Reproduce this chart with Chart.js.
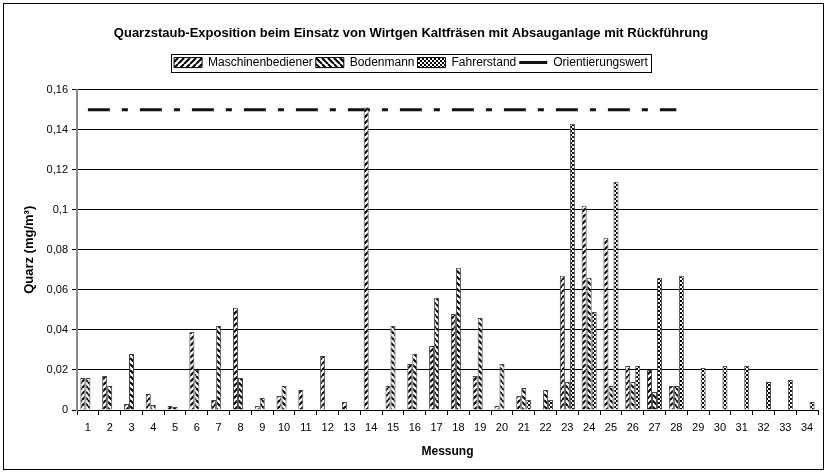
<!DOCTYPE html>
<html>
<head>
<meta charset="utf-8">
<script src="https://cdn.jsdelivr.net/npm/chart.js@4.4.0/dist/chart.umd.min.js"></script>
<style>
  body { margin: 0; background: #fff; }
  #frame { position: absolute; left: 3px; top: 3px; width: 819px; height: 465px; border: 1px solid #000; }
</style>
</head>
<body>
<div id="frame"><canvas id="chart"></canvas></div>
<script>
// values (mg/m³), null = no bar
const messungen = ["1","2","3","4","5","6","7","8","9","10","11","12","13","14","15","16","17",
  "18","19","20","21","22","23","24","25","26","27","28","29","30","31","32","33","34"];

const maschinenbediener = [0.016, 0.017, 0.003, 0.008, 0.002, 0.039, 0.005, 0.051, 0.002, 0.007,
  0.010, 0.027, 0.004, 0.151, 0.012, 0.023, 0.032, 0.048, 0.017, 0.002,
  0.007, null, 0.067, 0.102, 0.086, 0.022, 0.020, 0.012, null, null, null, null, null, null];

const bodenmann = [0.016, 0.012, 0.028, 0.0025, 0.0015, 0.020, 0.042, 0.016, 0.006, 0.012,
  null, null, null, null, 0.042, 0.028, 0.056, 0.071, 0.046, 0.023,
  0.011, 0.010, 0.014, 0.066, 0.012, 0.014, 0.009, 0.012, null, null, null, null, null, null];

const fahrerstand = [null, null, null, null, null, null, null, null, null, null,
  null, null, null, null, null, null, null, null, null, null,
  0.005, 0.005, 0.143, 0.049, 0.114, 0.022, 0.066, 0.067, 0.021, 0.022, 0.022, 0.014, 0.015, 0.004];

const orientierungswert = [0.15, 0.15, 0.15, 0.15, 0.15, 0.15, 0.15, 0.15, 0.15, 0.15,
  0.15, 0.15, 0.15, 0.15, 0.15, 0.15, 0.15, 0.15, 0.15, 0.15,
  0.15, 0.15, 0.15, 0.15, 0.15, 0.15, 0.15, 0.15, null, null, null, null, null, null];

// black & white fill patterns like the old excel chart
function makePattern(kind) {
  const c = document.createElement("canvas");
  const ctx = c.getContext("2d");
  const n = kind === "dots" ? 4 : 6;
  c.width = n; c.height = n;
  ctx.fillStyle = "#fff";
  ctx.fillRect(0, 0, n, n);
  ctx.fillStyle = "#000";
  ctx.strokeStyle = "#000";
  if (kind === "dots") {
    ctx.fillRect(0, 0, 2, 2);
    ctx.fillRect(2, 2, 2, 2);
  } else {
    ctx.lineWidth = 2;
    ctx.beginPath();
    for (let o = -n; o <= n; o += n) {
      if (kind === "up") {
        ctx.moveTo(o, n); ctx.lineTo(o + n, 0);
      } else {
        ctx.moveTo(o, 0); ctx.lineTo(o + n, n);
      }
    }
    ctx.stroke();
  }
  return ctx.createPattern(c, "repeat");
}

const legendFrame = {
  id: "legendFrame",
  start(chart) {
    // extra space between legend and plot
    const fit = chart.legend.fit;
    chart.legend.fit = function () {
      fit.call(this);
      this.height += 11;
    };
  },
  afterDraw(chart) {
    const boxes = chart.legend.legendHitBoxes;
    if (!boxes || !boxes.length) return;
    const left = Math.min(...boxes.map(b => b.left)) - 3;
    const right = Math.max(...boxes.map(b => b.left + b.width)) + 3;
    const top = Math.min(...boxes.map(b => b.top)) - 3;
    const bottom = Math.max(...boxes.map(b => b.top + b.height)) + 3;
    const ctx = chart.ctx;
    ctx.save();
    ctx.strokeStyle = "#000";
    ctx.lineWidth = 1;
    ctx.strokeRect(Math.round(left) + 0.5, Math.round(top) + 0.5, Math.round(right - left), Math.round(bottom - top));
    ctx.restore();
  }
};

Chart.defaults.font.family = '"Liberation Sans", Arial, sans-serif';
Chart.defaults.font.size = 11;
Chart.defaults.color = "#000";

const canvas = document.getElementById("chart");

new Chart(canvas, {
  type: "bar",
  data: {
    labels: messungen,
    datasets: [
      { label: "Maschinenbediener", data: maschinenbediener, backgroundColor: makePattern("up"), borderColor: "#444", borderWidth: 1 },
      { label: "Bodenmann", data: bodenmann, backgroundColor: makePattern("down"), borderColor: "#444", borderWidth: 1 },
      { label: "Fahrerstand", data: fahrerstand, backgroundColor: makePattern("dots"), borderColor: "#444", borderWidth: 1 },
      {
        type: "line", label: "Orientierungswert", data: orientierungswert,
        borderColor: "#111", borderWidth: 3, borderDash: [22, 12, 6, 12],
        pointRadius: 0, fill: false, spanGaps: false
      }
    ]
  },
  options: {
    responsive: true,
    maintainAspectRatio: false,
    animation: false,
    layout: { padding: { left: 0, right: 5, top: 0, bottom: 0 } },
    datasets: { bar: { barPercentage: 1, categoryPercentage: 0.69 } },
    plugins: {
      tooltip: { enabled: false },
      title: {
        display: true,
        text: "Quarzstaub-Exposition beim Einsatz von Wirtgen Kaltfräsen mit Absauganlage mit Rückführung",
        font: { size: 13, weight: "bold" },
        color: "#000",
        padding: { top: 22, bottom: 12 }
      },
      legend: {
        labels: {
          usePointStyle: true,
          pointStyleWidth: 28,
          boxHeight: 10,
          padding: 3,
          font: { size: 12 },
          generateLabels(chart) {
            const items = Chart.defaults.plugins.legend.labels.generateLabels(chart);
            items.forEach(it => {
              const ds = chart.data.datasets[it.datasetIndex];
              if (ds.type === "line") {
                it.pointStyle = "line";
                it.lineWidth = 3;
                it.strokeStyle = "#111";
                it.lineDash = [];
              } else {
                it.pointStyle = "rect";
                it.lineWidth = 1;
                it.strokeStyle = "#000";
              }
            });
            return items;
          }
        }
      }
    },
    scales: {
      x: {
        grid: { offset: true, drawOnChartArea: false, drawTicks: true, tickLength: 5, tickColor: "#000" },
        border: { color: "#000", width: 1 },
        ticks: { padding: 6, maxRotation: 0, autoSkip: false },
        title: { display: true, text: "Messung", font: { size: 12, weight: "bold" }, padding: { top: 4, bottom: 10 } },
        afterFit(scale) { scale.height = 59; }
      },
      y: {
        min: 0,
        max: 0.16,
        ticks: {
          stepSize: 0.02,
          padding: 4,
          callback: v => String(Math.round(v * 100) / 100).replace(".", ",")
        },
        grid: { color: "#000", lineWidth: 1, tickLength: 5, tickColor: "#000" },
        border: { color: "#888", width: 2 },
        title: { display: true, text: "Quarz (mg/m³)", font: { size: 13, weight: "bold" }, padding: { top: 18, bottom: 0 } },
        afterFit(scale) { scale.width = 73; }
      }
    }
  },
  plugins: [legendFrame]
});
</script>
</body>
</html>
